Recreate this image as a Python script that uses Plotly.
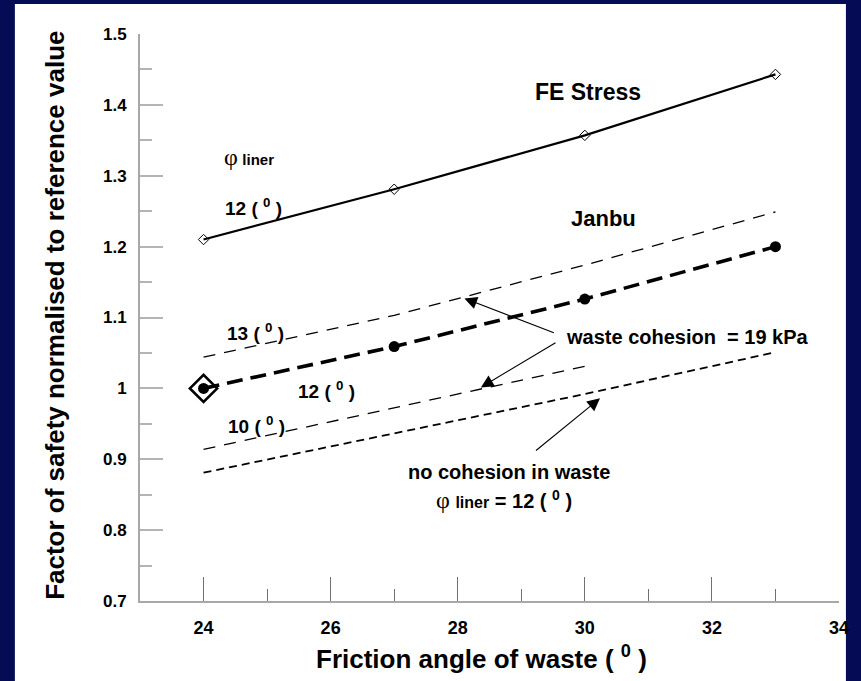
import plotly.graph_objects as go

# ---------------- data ----------------
friction_angle = [24, 27, 30, 33]
fe_stress_12 = [1.21, 1.281, 1.357, 1.443]
janbu_12 = [1.0, 1.059, 1.126, 1.2]
janbu_13 = [1.044, 1.103, 1.174, 1.249]
friction_angle_10 = [24, 27, 30]
janbu_10 = [0.914, 0.972, 1.031]
janbu_no_cohesion = [0.881, 0.936, 0.992, 1.051]
reference_x = [24]
reference_y = [1.0]

x_range = [23, 34]
y_range = [0.7, 1.5]

FONT = "Liberation Sans, Arial, sans-serif"
NAVY = "#050b55"

fig = go.Figure()

fig.add_trace(go.Scatter(
    x=friction_angle, y=fe_stress_12, mode="lines+markers",
    line=dict(color="black", width=2.2),
    marker=dict(symbol="diamond-open", size=8, color="black", line=dict(width=1, color="black")),
))
fig.add_trace(go.Scatter(
    x=friction_angle, y=janbu_13, mode="lines",
    line=dict(color="black", width=1.3, dash="12px,9px"),
))
fig.add_trace(go.Scatter(
    x=friction_angle_10, y=janbu_10, mode="lines",
    line=dict(color="black", width=1.3, dash="12px,9px"),
))
fig.add_trace(go.Scatter(
    x=friction_angle, y=janbu_no_cohesion, mode="lines",
    line=dict(color="black", width=1.8, dash="8px,5px"),
))
fig.add_trace(go.Scatter(
    x=friction_angle, y=janbu_12, mode="lines+markers",
    line=dict(color="black", width=3.6, dash="16px,8px"),
    marker=dict(symbol="circle", size=11, color="black"),
))
fig.add_trace(go.Scatter(
    x=reference_x, y=reference_y, mode="markers",
    marker=dict(symbol="diamond-open", size=21, color="black", line=dict(width=2.6, color="black")),
))

# white slide panel
fig.add_shape(type="rect", xref="paper", yref="paper",
              x0=-0.179, x1=1.0099, y0=-0.2, y1=1.0529,
              fillcolor="white", line=dict(width=0), layer="below")

ann = []

def txt(x, y, text, size, xanchor="left", bold=True):
    ann.append(dict(x=x, y=y, xref="x", yref="y", text=text, showarrow=False,
                    xanchor=xanchor, yanchor="middle",
                    font=dict(family=FONT, size=size, color="black",
                              weight="bold" if bold else "normal")))

phi = '<span style="font-family:Liberation Serif;font-weight:normal;font-size:24px">φ</span>'
sup0 = "<sup>0</sup>"

txt(30.05, 1.418, "FE Stress", 23, "center")
txt(30.3, 1.24, "Janbu", 22, "center")
txt(24.29, 1.327, phi + ' <span style="font-size:15px">liner</span>', 16)
txt(24.30, 1.256, "12 ( " + sup0 + " )", 19)
txt(24.34, 1.080, "13 ( " + sup0 + " )", 19)
txt(25.45, 0.998, "12 ( " + sup0 + " )", 19)
txt(24.36, 0.949, "10 ( " + sup0 + " )", 19)
txt(29.667, 1.073, "waste cohesion \u00a0= 19 kPa", 20)
txt(28.81, 0.8824, "no cohesion in waste", 20, "center")
txt(27.63, 0.8425, phi + ' <span style="font-size:16px">liner</span> = 12 ( ' + sup0 + " )", 20)

def arrow(hx, hy, tx, ty):
    ann.append(dict(x=hx, y=hy, ax=tx, ay=ty, xref="x", yref="y", axref="x", ayref="y",
                    text="", showarrow=True, arrowhead=2, arrowsize=2.3, arrowwidth=1.1,
                    arrowcolor="black", standoff=0, startstandoff=0))

arrow(28.105, 1.1269, 29.536, 1.0776)
arrow(28.364, 1.0014, 29.5625, 1.0657)
arrow(30.239, 0.9859, 29.208, 0.9106)

# axis titles
ann.append(dict(x=(484 - 140) / 704, y=-0.1, xref="paper", yref="paper", showarrow=False,
                text="Friction angle of waste ( " + sup0 + " )", xanchor="center", yanchor="middle",
                font=dict(family=FONT, size=26, color="black", weight="bold")))
ann.append(dict(x=(55 - 140) / 704, y=0.504, xref="paper", yref="paper", showarrow=False,
                text="Factor of safety normalised to reference value", textangle=-90,
                xanchor="center", yanchor="middle",
                font=dict(family=FONT, size=26, color="black", weight="bold")))

fig.update_layout(
    width=861, height=681,
    margin=dict(l=140, r=17, t=34, b=80),
    paper_bgcolor=NAVY, plot_bgcolor="white",
    showlegend=False,
    annotations=ann,
    xaxis=dict(range=x_range, tick0=24, dtick=2, ticks="inside", ticklen=24,
               tickcolor="#707070", tickwidth=1, showgrid=False, zeroline=False,
               showline=True, linecolor="#a8a8a8", linewidth=2,
               ticklabelstandoff=9,
               tickfont=dict(family=FONT, size=18, color="black", weight="bold"),
               minor=dict(dtick=1, tick0=24, ticks="inside", ticklen=12,
                          tickcolor="#707070", tickwidth=1, showgrid=False)),
    yaxis=dict(range=y_range, tick0=0.7, dtick=0.1, ticks="inside", ticklen=23,
               tickcolor="#b4b4b4", tickwidth=1.5, showgrid=False, zeroline=False,
               showline=True, linecolor="#a8a8a8", linewidth=2,
               ticklabelstandoff=8,
               tickfont=dict(family=FONT, size=17, color="black", weight="bold"),
               minor=dict(dtick=0.05, tick0=0.7, ticks="inside", ticklen=12,
                          tickcolor="#b4b4b4", tickwidth=1.5, showgrid=False)),
)

fig.write_html("out.html")
